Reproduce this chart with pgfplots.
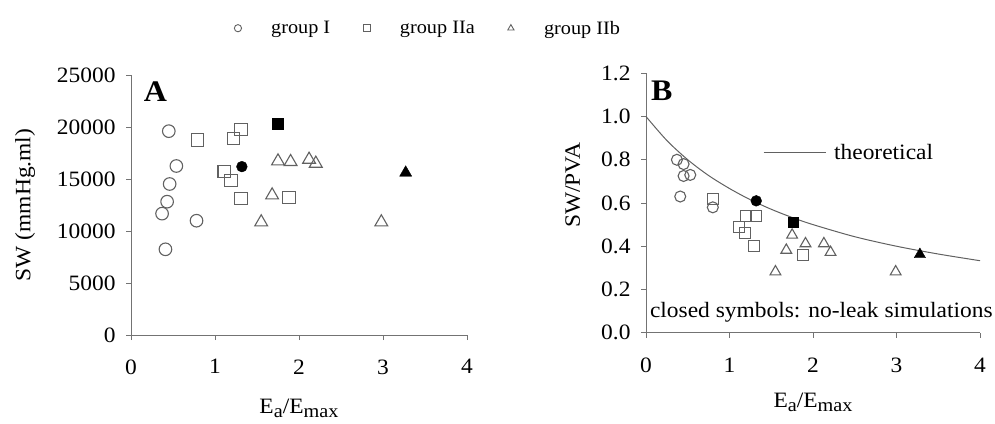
\documentclass[border=0pt]{standalone}
\usepackage{fontspec}
\setmainfont{Liberation Serif}[FakeStretch=1.07]
\usepackage{pgfplots}
\pgfplotsset{compat=1.18}
\definecolor{mk}{gray}{0.38}
\definecolor{ax}{gray}{0.45}
\pgfplotsset{
  panel/.style={scale only axis, axis x line=bottom, axis y line=left,
    axis line style={ax,-,line width=1bp}, xmin=0, xmax=4, xtick={0,1,2,3,4},
    tick style={ax,line width=0.8bp}, major tick length=5bp, tick align=outside,
    clip=false, scaled ticks=false,
    ticklabel style={font=\fontsize{22}{26}\selectfont},
    label style={font=\fontsize{22}{26}\selectfont},
    /pgf/number format/assume math mode=true,
    xticklabel style={yshift=-16bp},
    yticklabel style={xshift=-7bp}},
  opn/.style={only marks, color=mk, mark options={line width=1.1bp}},
  fll/.style={only marks, color=black, mark options={fill=black}},
}
\newcommand{\ealabel}{E\raisebox{-0.4ex}{\fontsize{19}{19}\selectfont a}/E\raisebox{-0.4ex}{\fontsize{19}{19}\selectfont max}}
\begin{document}
\begin{tikzpicture}[x=1bp,y=1bp]
\useasboundingbox (0,0) rectangle (995,423);
% Panel A
\begin{axis}[panel, at={(131bp,88bp)}, anchor=south west,
  width=336bp, height=260bp, ymin=0, ymax=25000,
  ytick={0,5000,10000,15000,20000,25000},
  yticklabel style={/pgf/number format/.cd, fixed, 1000 sep={}},
  xlabel={\ealabel}, ylabel={SW (mmHg.ml)},
  xlabel style={at={(axis description cs:0.5,-0.231)}, anchor=north},
  ylabel style={at={(axis description cs:-0.315,0.5)}, anchor=center},
  legend columns=3,
  legend style={at={(0.307,1.18)}, anchor=west, draw=none, fill=none, inner sep=0pt,
    font=\fontsize{19}{22}\selectfont,
    /tikz/every even column/.append style={column sep=31bp}},
  legend image code/.code={\path (0bp,0bp) (31bp,0bp); \draw[#1] plot coordinates {(0bp,0bp)};},
  legend image post style={mark size=3.6bp, mark options={line width=0.9bp}},
]
\addplot[opn, mark=o, mark size=6.3bp] coordinates {(0.45,19600) (0.54,16250) (0.46,14520) (0.43,12820) (0.37,11670) (0.78,10990) (0.41,8240)};
\addlegendentry{group I}
\addplot[opn, mark=square, mark size=6.2bp] coordinates {(0.79,18750) (1.22,18910) (1.31,19780) (1.11,15710) (1.19,14840) (1.31,13110) (1.88,13200)};
\addlegendentry{group IIa}
\addplot[opn, mark=triangle, mark size=7.4bp] coordinates {(1.75,16710) (1.90,16650) (2.12,16870) (2.20,16490) (1.68,13440) (1.55,10850) (2.98,10850)};
\addlegendentry{group IIb}
\addplot[fll, mark=*, mark size=5.4bp, forget plot] coordinates {(1.32,16190)};
\addplot[fll, mark=square*, mark size=5.5bp, forget plot] coordinates {(1.75,20290)};
\addplot[fll, mark=triangle*, mark size=7bp, forget plot] coordinates {(3.27,15600)};
\node[font=\fontsize{30}{32}\selectfont\bfseries] at (axis cs:0.29,23365) {A};
\end{axis}
% Panel B
\begin{axis}[panel, at={(646bp,90.3bp)}, anchor=south west,
  width=334bp, height=259.4bp, ymin=0, ymax=1.2,
  ytick={0,0.2,0.4,0.6,0.8,1.0,1.2},
  yticklabel style={/pgf/number format/.cd, fixed, fixed zerofill, precision=1},
  xticklabel style={yshift=-1bp},
  xlabel={\ealabel}, ylabel={SW/PVA},
  xlabel style={at={(axis description cs:0.5,-0.22)}, anchor=north},
  ylabel style={at={(axis description cs:-0.219,0.569)}, anchor=center},
  legend style={at={(0.35,0.693)}, anchor=west, draw=none, fill=none, inner sep=0pt,
    font=\fontsize{22}{26}\selectfont},
  legend image code/.code={\draw[#1] (0bp,0bp) -- (62bp,0bp); \path (68bp,0bp);},
]
\addplot[mk, line width=1bp, smooth] coordinates {(0,1.0) (0.25,0.889) (0.5,0.8) (0.75,0.727) (1,0.667) (1.25,0.615) (1.5,0.571) (1.75,0.533) (2,0.5) (2.5,0.444) (3,0.4) (3.5,0.364) (4,0.333)};
\addlegendentry{theoretical}
\addplot[opn, mark=o, mark size=5.5bp, forget plot] coordinates {(0.37,0.80) (0.45,0.78) (0.45,0.725) (0.53,0.73) (0.41,0.63) (0.80,0.58)};
\addplot[opn, mark=square, mark size=5.5bp, forget plot] coordinates {(0.80,0.62) (1.11,0.49) (1.19,0.46) (1.20,0.54) (1.32,0.54) (1.29,0.40) (1.88,0.36)};
\addplot[opn, mark=triangle, mark size=6.2bp, forget plot] coordinates {(1.75,0.452) (1.68,0.382) (1.91,0.412) (2.13,0.412) (2.21,0.372) (1.55,0.282) (2.99,0.282)};
\addplot[fll, mark=*, mark size=5.4bp, forget plot] coordinates {(1.32,0.61)};
\addplot[fll, mark=square*, mark size=5.2bp, forget plot] coordinates {(1.76,0.51)};
\addplot[fll, mark=triangle*, mark size=6.5bp, forget plot] coordinates {(3.28,0.362)};
\node[font=\fontsize{30}{32}\selectfont\bfseries] at (axis cs:0.19,1.12) {B};
\node[font=\fontsize{22}{26}\selectfont] at (axis cs:2.1,0.096) {closed symbols: no-leak simulations};
\end{axis}
\end{tikzpicture}
\end{document}
